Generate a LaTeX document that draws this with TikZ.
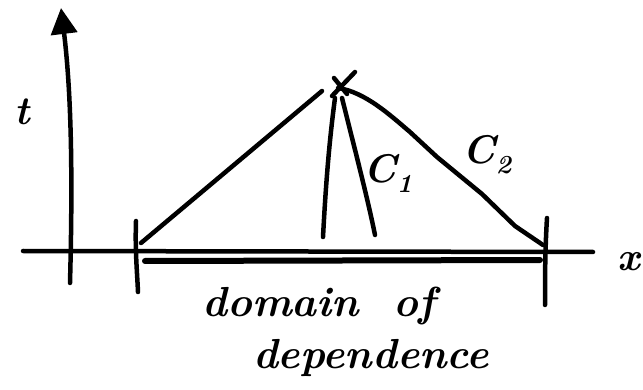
\documentclass[tikz,border=0pt]{standalone}
\usepackage{fix-cm}
\usetikzlibrary{arrows.meta}
\begin{document}
\begin{tikzpicture}[x=1pt,y=-1pt,line cap=round,line join=round]
\tikzset{
  stroke/.style={line width=4.5pt},
  heavy/.style={line width=6pt},
  lbl/.style={inner sep=0pt,font=\fontsize{40}{46}\selectfont\bfseries\itshape},
  words/.style={inner sep=0pt,font=\fontsize{42}{48}\selectfont\bfseries\itshape}
}
\useasboundingbox (0,0) rectangle (643,390);
% axes
\coordinate (tbot) at (70,283);
\coordinate (ttop) at (61,8);
\draw[stroke,-{Triangle[width=26pt,length=26pt]}] (tbot) .. controls (73,170) and (71,90) .. (ttop);
\coordinate (xl) at (23,251);
\coordinate (xr) at (593,252);
\draw[stroke] (xl) -- (xr);
% ticks
\coordinate (lt1) at (136,221);
\coordinate (lt2) at (138,292);
\draw[stroke] (lt1) .. controls (135,250) and (137,270) .. (lt2);
\coordinate (rt1) at (547,218);
\coordinate (rt2) at (545,305);
\draw[stroke] (rt1) .. controls (545,250) and (545,280) .. (rt2);
% domain underline
\coordinate (d1) at (145,261);
\coordinate (d2) at (540,260);
\draw[heavy] (d1) -- (d2);
% characteristics
\coordinate (apex) at (338,88);
\coordinate (lfoot) at (141,243);
\coordinate (lend) at (322,91);
\draw[stroke] (lfoot) -- (lend);
\coordinate (x1a) at (332,96);
\coordinate (x1b) at (355,72);
\coordinate (x2a) at (334,78);
\coordinate (x2b) at (347,94);
\draw[stroke] (x1a) -- (x1b);
\draw[stroke] (x2a) -- (x2b);
\coordinate (rfoot) at (543,245);
\draw[stroke] (apex) .. controls (365,92) and (390,115) .. (410,132)
  -- (437,157) -- (482,194) -- (515,226) -- (rfoot);
\coordinate (c1la) at (335,98);
\coordinate (c1lb) at (323,237);
\coordinate (c1ra) at (342,98);
\coordinate (c1rb) at (375,235);
\draw[stroke] (c1la) .. controls (328,150) and (325,200) .. (c1lb);
\draw[stroke] (c1ra) .. controls (355,150) and (368,200) .. (c1rb);
% labels
\node[lbl] (tl) at (22,112) {t};
\node[lbl] (xlab) at (629,262) {x};
\node[lbl] (c1) at (388,173) {C\raisebox{-0.25em}{\fontsize{26}{30}\selectfont 1}};
\node[lbl] (c2) at (487,155) {C\raisebox{-0.25em}{\fontsize{26}{30}\selectfont 2}};
\node[words] (w1) at (319,306) {domain\ \ of};
\node[words] (w2) at (371,358) {dependence};
\end{tikzpicture}
\end{document}
